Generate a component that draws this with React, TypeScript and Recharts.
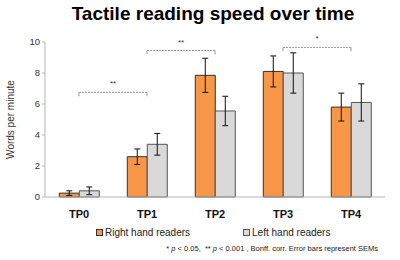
import {
  BarChart, Bar, XAxis, YAxis, ErrorBar, ReferenceLine,
} from "recharts";

const timepoints = ["TP0", "TP1", "TP2", "TP3", "TP4"];
const rightHand = [0.25, 2.6, 7.85, 8.1, 5.8];
const rightSem = [0.15, 0.5, 1.1, 1.0, 0.9];
const leftHand = [0.4, 3.4, 5.55, 8.0, 6.1];
const leftSem = [0.25, 0.7, 0.95, 1.3, 1.2];
const yTicks = [0, 2, 4, 6, 8, 10];

// significance brackets: from, to, height, label
const brackets: [string, string, number, string][] = [
  ["TP0", "TP1", 6.75, "**"],
  ["TP1", "TP2", 9.45, "**"],
  ["TP3", "TP4", 9.65, "*"],
];

const data = timepoints.map((tp, i) => ({
  tp,
  right: rightHand[i],
  rightErr: rightSem[i],
  left: leftHand[i],
  leftErr: leftSem[i],
}));

const font = "'Liberation Sans', Arial, Helvetica, sans-serif";

export default function App() {
  return (
    <div style={{ position: "fixed", left: 0, top: 0, width: 400, height: 260, background: "#fff", fontFamily: font }}>
      <div style={{ position: "absolute", left: 0, width: 400, top: 3, textAlign: "center", paddingLeft: 26, boxSizing: "border-box", fontSize: 19, fontWeight: "bold", color: "#000" }}>
        Tactile reading speed over time
      </div>
      <BarChart
        width={400}
        height={260}
        data={data}
        margin={{ top: 42, right: 15, left: 0, bottom: 33 }}
        barCategoryGap="21%"
        barGap={0}
      >
        <XAxis
          dataKey="tp"
          height={30}
          axisLine={{ stroke: "#b5b5b5" }}
          tickLine={false}
          tick={{ fontSize: 11, fontWeight: "bold", fill: "#111", fontFamily: font }}
          tickMargin={7}
        />
        <YAxis
          domain={[0, 10]}
          ticks={yTicks}
          width={45}
          axisLine={{ stroke: "#b5b5b5" }}
          tickLine={{ stroke: "#b5b5b5" }}
          tickSize={3}
          tick={{ fontSize: 9.5, fill: "#333", fontFamily: font }}
          label={{ value: "Words per minute", angle: -90, position: "insideLeft", offset: 10, style: { fontSize: 10, fill: "#333", fontFamily: font, textAnchor: "middle" } }}
        />
        <Bar dataKey="right" fill="#F79646" stroke="#333" strokeWidth={1} isAnimationActive={false}>
          <ErrorBar dataKey="rightErr" width={3} stroke="#111" strokeWidth={1} isAnimationActive={false} />
        </Bar>
        <Bar dataKey="left" fill="#D9D9D9" stroke="#555" strokeWidth={1} isAnimationActive={false}>
          <ErrorBar dataKey="leftErr" width={3} stroke="#111" strokeWidth={1} isAnimationActive={false} />
        </Bar>
        {brackets.map(([a, b, y, txt], i) => (
          <ReferenceLine
            key={"h" + i}
            segment={[{ x: a, y }, { x: b, y }]}
            stroke="#999"
            strokeDasharray="2 1"
            label={{ value: txt, position: "top", offset: 6, style: { fontSize: 8, fill: "#333", fontFamily: font } }}
          />
        ))}
        {brackets.flatMap(([a, b, y], i) => [
          <ReferenceLine key={"l" + i} segment={[{ x: a, y }, { x: a, y: y - 0.25 }]} stroke="#999" />,
          <ReferenceLine key={"r" + i} segment={[{ x: b, y }, { x: b, y: y - 0.25 }]} stroke="#999" />,
        ])}
      </BarChart>
      <div style={{ position: "absolute", top: 227, left: 96, fontSize: 10, color: "#222", display: "flex", alignItems: "center" }}>
        <span style={{ width: 5, height: 5, background: "#F79646", border: "1px solid #333", marginRight: 2 }} />
        <span>Right hand readers</span>
        <span style={{ width: 5, height: 5, background: "#D9D9D9", border: "1px solid #555", marginLeft: 53, marginRight: 2 }} />
        <span>Left hand readers</span>
      </div>
      <div style={{ position: "absolute", top: 244, right: 22, fontSize: 7.5, color: "#222", whiteSpace: "nowrap" }}>
        * <i>p</i> &lt; 0.05,&nbsp; ** <i>p</i> &lt; 0.001 , Bonff. corr. Error bars represent SEMs
      </div>
    </div>
  );
}
